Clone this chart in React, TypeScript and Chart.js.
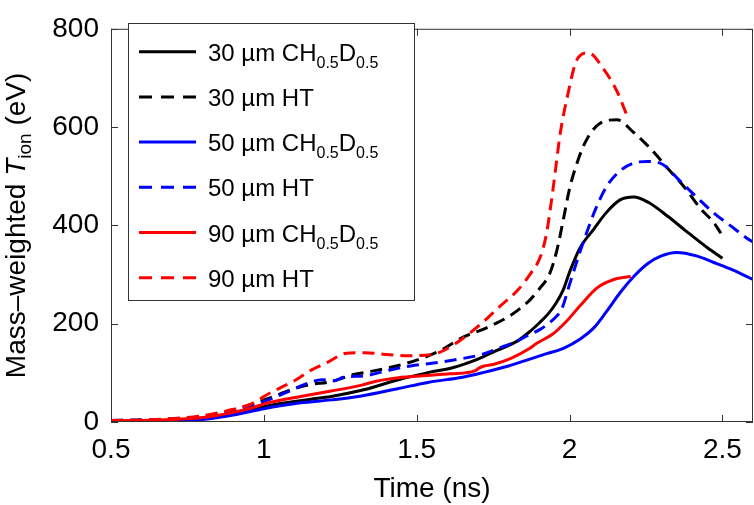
import React, { useEffect, useRef } from "react";
import { Chart, registerables } from "chart.js";

Chart.register(...registerables);

const FONT = "'Liberation Sans', Arial, Helvetica, sans-serif";

// Tick values
const xTickValues = [0.5, 1, 1.5, 2, 2.5];
const yTickValues = [0, 200, 400, 600, 800];

// Legend labels (_{..} = subscript)
const seriesLabels = [
  "30 µm CH_{0.5}D_{0.5}",
  "30 µm HT",
  "50 µm CH_{0.5}D_{0.5}",
  "50 µm HT",
  "90 µm CH_{0.5}D_{0.5}",
  "90 µm HT",
];
const seriesColors = ["#000000", "#000000", "#0000ff", "#0000ff", "#ff0000", "#ff0000"];
const seriesDashed = [false, true, false, true, false, true];

// 30 µm CH0.5D0.5 (black solid)
const t30CH = [0.5, 0.6, 0.7, 0.8, 0.88, 0.95, 1.04, 1.15, 1.22, 1.33, 1.44, 1.54, 1.62, 1.7, 1.76, 1.83, 1.87, 1.9, 1.93, 1.955, 1.98, 2.0, 2.035, 2.08, 2.12, 2.165, 2.21, 2.26, 2.32, 2.38, 2.45, 2.5];
const v30CH = [2, 2, 3, 7, 14, 24, 36, 46, 52, 66, 86, 101, 111, 128, 145, 165, 184, 201, 220, 241, 270, 305, 355, 393, 426, 452, 458, 446, 419, 389, 355, 333];

// 30 µm HT (black dashed)
const t30HT = [0.5, 0.6, 0.7, 0.8, 0.88, 0.94, 1.02, 1.09, 1.15, 1.22, 1.29, 1.36, 1.44, 1.5, 1.58, 1.65, 1.73, 1.81, 1.85, 1.87, 1.9, 1.935, 1.958, 1.98, 2.0, 2.03, 2.057, 2.1, 2.155, 2.21, 2.265, 2.32, 2.375, 2.43, 2.47, 2.495];
const v30HT = [3, 4, 6, 11, 20, 32, 49, 66, 76, 82, 96, 104, 115, 126, 146, 172, 192, 218, 237, 248, 270, 302, 348, 413, 475, 537, 576, 608, 615, 589, 556, 517, 478, 433, 407, 384];

// 50 µm CH0.5D0.5 (blue solid)
const t50CH = [0.5, 0.6, 0.7, 0.8, 0.9, 1.0, 1.12, 1.22, 1.32, 1.44, 1.54, 1.65, 1.72, 1.8, 1.87, 1.925, 1.98, 2.035, 2.08, 2.12, 2.165, 2.21, 2.255, 2.3, 2.35, 2.415, 2.47, 2.535, 2.6];
const v50CH = [1, 1, 2, 5, 14, 27, 39, 45, 53, 68, 81, 91, 101, 114, 128, 139, 150, 169, 192, 224, 263, 296, 322, 338, 345, 338, 325, 309, 290];

// 50 µm HT (blue dashed)
const t50HT = [0.5, 0.6, 0.7, 0.8, 0.88, 0.94, 1.02, 1.08, 1.14, 1.19, 1.23, 1.26, 1.33, 1.4, 1.48, 1.555, 1.63, 1.71, 1.78, 1.82, 1.86, 1.905, 1.94, 1.975, 2.0, 2.035, 2.057, 2.085, 2.12, 2.165, 2.21, 2.255, 2.305, 2.36, 2.415, 2.47, 2.525, 2.58, 2.6];
const v50HT = [3, 4, 6, 11, 19, 30, 46, 62, 78, 86, 84, 91, 94, 104, 114, 120, 127, 137, 153, 162, 175, 189, 205, 231, 280, 348, 387, 433, 478, 511, 527, 530, 524, 491, 458, 426, 400, 374, 366];

// 90 µm CH0.5D0.5 (red solid)
const t90CH = [0.5, 0.6, 0.7, 0.8, 0.88, 0.95, 1.02, 1.12, 1.22, 1.32, 1.36, 1.44, 1.52, 1.61, 1.69, 1.705, 1.72, 1.75, 1.81, 1.87, 1.89, 1.945, 1.99, 2.035, 2.09, 2.145, 2.2];
const v90CH = [2, 3, 5, 9, 17, 27, 40, 52, 63, 75, 82, 90, 94, 98, 104, 110, 114, 117, 130, 150, 159, 179, 205, 237, 273, 290, 296];

// 90 µm HT (red dashed)
const t90HT = [0.5, 0.6, 0.7, 0.8, 0.88, 0.955, 1.02, 1.1, 1.15, 1.21, 1.27, 1.33, 1.39, 1.47, 1.545, 1.59, 1.655, 1.72, 1.775, 1.83, 1.87, 1.905, 1.925, 1.945, 1.97, 1.99, 2.025, 2.062, 2.11, 2.155, 2.19];
const v90HT = [3, 4, 7, 13, 23, 36, 59, 84, 104, 122, 140, 141, 138, 135, 137, 146, 172, 205, 237, 268, 300, 337, 385, 470, 589, 654, 738, 751, 719, 673, 620];

const seriesTimes = [t30CH, t30HT, t50CH, t50HT, t90CH, t90HT];
const seriesValues = [v30CH, v30HT, v50CH, v50HT, v90CH, v90HT];

const AXIS_COLOR = "#333333";

type Part = { text: string; font: string; dy: number };

function drawRich(ctx: CanvasRenderingContext2D, parts: Part[], x: number, y: number) {
  let cx = x;
  for (const p of parts) {
    ctx.font = p.font;
    ctx.fillText(p.text, cx, y + p.dy);
    cx += ctx.measureText(p.text).width;
  }
}

function richWidth(ctx: CanvasRenderingContext2D, parts: Part[]) {
  let w = 0;
  for (const p of parts) {
    ctx.font = p.font;
    w += ctx.measureText(p.text).width;
  }
  return w;
}

function parseLabel(label: string, size: number, subSize: number, subDy: number) {
  const parts: Part[] = [];
  const re = /_\{([^}]*)\}/g;
  let last = 0;
  let m: RegExpExecArray | null;
  while ((m = re.exec(label))) {
    if (m.index > last) parts.push({ text: label.slice(last, m.index), font: `${size}px ${FONT}`, dy: 0 });
    parts.push({ text: m[1], font: `${subSize}px ${FONT}`, dy: subDy });
    last = m.index + m[0].length;
  }
  if (last < label.length) parts.push({ text: label.slice(last), font: `${size}px ${FONT}`, dy: 0 });
  return parts;
}

const framePlugin = {
  id: "matlabFrame",
  afterDatasetsDraw(chart: any) {
    const { ctx, chartArea } = chart;
    const xs = chart.scales.x;
    const ys = chart.scales.y;
    const { left, right, top, bottom } = chartArea;
    ctx.save();
    ctx.strokeStyle = AXIS_COLOR;
    ctx.lineWidth = 1;
    ctx.setLineDash([]);
    ctx.strokeRect(left + 0.5, top + 0.5, right - left - 1, bottom - top - 1);
    const tl = 7;
    ctx.beginPath();
    for (const v of xTickValues) {
      const px = Math.round(xs.getPixelForValue(v)) + 0.5;
      ctx.moveTo(px, bottom);
      ctx.lineTo(px, bottom - tl);
      ctx.moveTo(px, top);
      ctx.lineTo(px, top + tl);
    }
    for (const v of yTickValues) {
      const py = Math.round(ys.getPixelForValue(v)) + 0.5;
      ctx.moveTo(left, py);
      ctx.lineTo(left + tl, py);
      ctx.moveTo(right, py);
      ctx.lineTo(right - tl, py);
    }
    ctx.stroke();

    // Legend
    const lx = 128.5, ly = 23.5, lw = 286, lh = 277;
    ctx.fillStyle = "#ffffff";
    ctx.fillRect(lx, ly, lw, lh);
    ctx.strokeStyle = AXIS_COLOR;
    ctx.strokeRect(lx, ly, lw, lh);
    const ds = chart.data.datasets;
    for (let i = 0; i < ds.length; i++) {
      const rowY = 51.7 + i * 45.2;
      ctx.strokeStyle = ds[i].borderColor;
      ctx.lineWidth = 3;
      ctx.setLineDash(seriesDashed[i] ? [13, 9] : []);
      ctx.beginPath();
      ctx.moveTo(139, rowY);
      ctx.lineTo(196, rowY);
      ctx.stroke();
      ctx.setLineDash([]);
      ctx.fillStyle = "#000000";
      ctx.textBaseline = "alphabetic";
      ctx.textAlign = "left";
      drawRich(ctx, parseLabel(ds[i].label, 24, 16, 7), 208, rowY + 9);
    }

    // Axis titles
    ctx.fillStyle = "#000000";
    ctx.textBaseline = "alphabetic";
    ctx.textAlign = "left";
    ctx.font = `28px ${FONT}`;
    const xt = "Time (ns)";
    const xw = ctx.measureText(xt).width;
    ctx.fillText(xt, (left + right) / 2 - xw / 2, 497);

    const yParts: Part[] = [
      { text: "Mass–weighted ", font: `28px ${FONT}`, dy: 0 },
      { text: "T", font: `italic 28px ${FONT}`, dy: 0 },
      { text: "ion", font: `19px ${FONT}`, dy: 6 },
      { text: " (eV)", font: `28px ${FONT}`, dy: 0 },
    ];
    const yw = richWidth(ctx, yParts);
    ctx.save();
    ctx.translate(25, (top + bottom) / 2);
    ctx.rotate(-Math.PI / 2);
    drawRich(ctx, yParts, -yw / 2, 0);
    ctx.restore();
    ctx.restore();
  },
};

export default function App() {
  const ref = useRef<HTMLCanvasElement>(null);
  useEffect(() => {
    document.body.style.margin = "0";
    const canvas = ref.current;
    if (!canvas) return;
    const datasets = seriesLabels.map((label, i) => ({
      label,
      data: seriesTimes[i].map((x, j) => ({ x, y: seriesValues[i][j] })),
      borderColor: seriesColors[i],
      backgroundColor: seriesColors[i],
      borderWidth: 3,
      borderDash: seriesDashed[i] ? [12, 7] : [],
      pointRadius: 0,
      cubicInterpolationMode: "monotone" as const,
      fill: false,
      clip: 0,
      order: -i,
    }));
    const chart = new Chart(canvas, {
      type: "line",
      data: { datasets },
      options: {
        responsive: false,
        animation: false,
        events: [],
        layout: { padding: { left: 0, top: 12, right: 1, bottom: 0 } },
        plugins: {
          legend: { display: false },
          tooltip: { enabled: false },
          title: { display: false },
        },
        scales: {
          x: {
            type: "linear",
            min: 0.5,
            max: 2.6,
            afterBuildTicks: (s: any) => {
              s.ticks = xTickValues.map((v) => ({ value: v }));
            },
            afterFit: (s: any) => {
              s.height = 83;
            },
            grid: { display: false, drawTicks: false },
            border: { display: false },
            ticks: {
              padding: 11,
              color: "#000000",
              font: { family: FONT, size: 28 },
              maxRotation: 0,
              autoSkip: false,
              callback: (v: any) => String(v),
            },
          },
          y: {
            type: "linear",
            min: 0,
            max: 800,
            afterBuildTicks: (s: any) => {
              s.ticks = yTickValues.map((v) => ({ value: v }));
            },
            afterFit: (s: any) => {
              s.width = 111;
            },
            grid: { display: false, drawTicks: false },
            border: { display: false },
            ticks: {
              padding: 12,
              color: "#000000",
              font: { family: FONT, size: 28 },
              autoSkip: false,
              callback: (v: any) => String(v),
            },
          },
        },
      },
      plugins: [framePlugin],
    });
    return () => chart.destroy();
  }, []);
  return (
    <div style={{ width: 754, height: 505 }}>
      <canvas ref={ref} width={754} height={505} style={{ display: "block" }} />
    </div>
  );
}
